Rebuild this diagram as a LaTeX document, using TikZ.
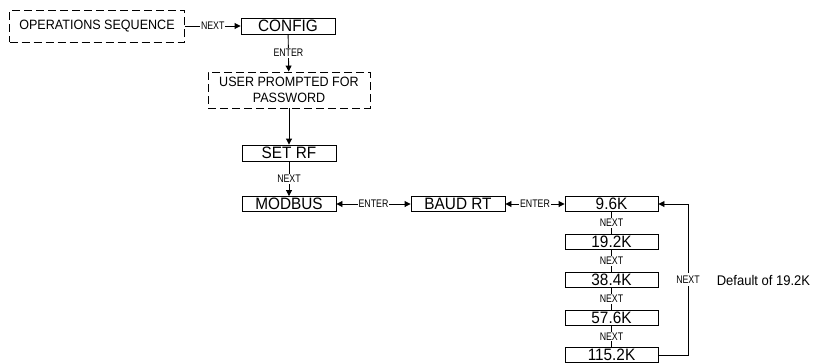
\documentclass[tikz,border=0pt]{standalone}
\usepackage{fontspec}
\setmainfont{Liberation Sans}
\newfontfamily\boxfont[FakeStretch=0.93]{Liberation Sans}
\newfontfamily\keyfont[FakeStretch=0.8]{Liberation Sans}
\usetikzlibrary{arrows.meta,positioning}

\begin{document}
\begin{tikzpicture}[x=1pt,y=-1pt,line width=0.9pt,
  menubox/.style={draw,rectangle,inner sep=0pt,minimum width=94pt,minimum height=15pt,font=\boxfont\fontsize{16.5}{16.5}\selectfont},
  dashbox/.style={draw,rectangle,inner sep=0pt,dash pattern=on 8pt off 4pt,align=center,font=\boxfont\fontsize{13.5}{15.5}\selectfont},
  keylbl/.style={fill=white,inner sep=1pt,font=\keyfont\fontsize{11}{11}\selectfont},
  tip/.style={-{Triangle[length=6pt,width=6pt]}},
  tips/.style={{Triangle[length=6pt,width=6pt]}-{Triangle[length=6pt,width=6pt]}}]
\useasboundingbox (0,0) rectangle (838,362);
% menu boxes
\node [dashbox,minimum width=175pt,minimum height=32pt] (ops) at (97,26) {OPERATIONS SEQUENCE};
\node [menubox,minimum height=16pt] (config) at (288,26) {CONFIG};
\node [dashbox,minimum width=162pt,minimum height=36pt] (pass) at (289,90) {USER PROMPTED FOR\\PASSWORD};
\node [menubox,minimum height=16pt] (setrf) at (289,153) {SET RF};
\node [menubox] (modbus) at (289,204) {MODBUS};
\node [menubox] (baud) at (458,204) {BAUD RT};
% baud rates
\node [menubox,minimum width=93pt] (b96) at (611.5,204) {9.6K};
\node [menubox,minimum width=93pt] (b192) at (611.5,242) {19.2K};
\node [menubox,minimum width=93pt] (b384) at (611.5,280) {38.4K};
\node [menubox,minimum width=93pt] (b576) at (611.5,318) {57.6K};
\node [menubox,minimum width=93pt] (b1152) at (611.5,355) {115.2K};
% connectors
\draw [tip] (ops) -- node [keylbl] {NEXT} (config);
\draw [tip] (config) -- node [keylbl,pos=0.5] {ENTER} (pass);
\draw [tip] (pass) -- (setrf);
\draw [tip] (setrf) -- node [keylbl] {NEXT} (modbus);
\draw [tips] (modbus) -- node [keylbl] {ENTER} (baud);
\draw [tips] (baud) -- node [keylbl] {ENTER} (b96);
\draw (b96) -- node [keylbl] {NEXT} (b192);
\draw (b192) -- node [keylbl] {NEXT} (b384);
\draw (b384) -- node [keylbl] {NEXT} (b576);
\draw (b576) -- node [keylbl] {NEXT} (b1152);
\coordinate (loopdn) at (688,355);
\coordinate (loopup) at (688,204);
\draw [tip] (b1152.east) -- (loopdn) -- node [keylbl,inner sep=3pt] (lpnext) {NEXT} (loopup) -- (b96.east);
\node [font=\boxfont\fontsize{14}{14}\selectfont,anchor=west] (dflt) at (713,280) {Default of 19.2K};
\end{tikzpicture}
\end{document}
